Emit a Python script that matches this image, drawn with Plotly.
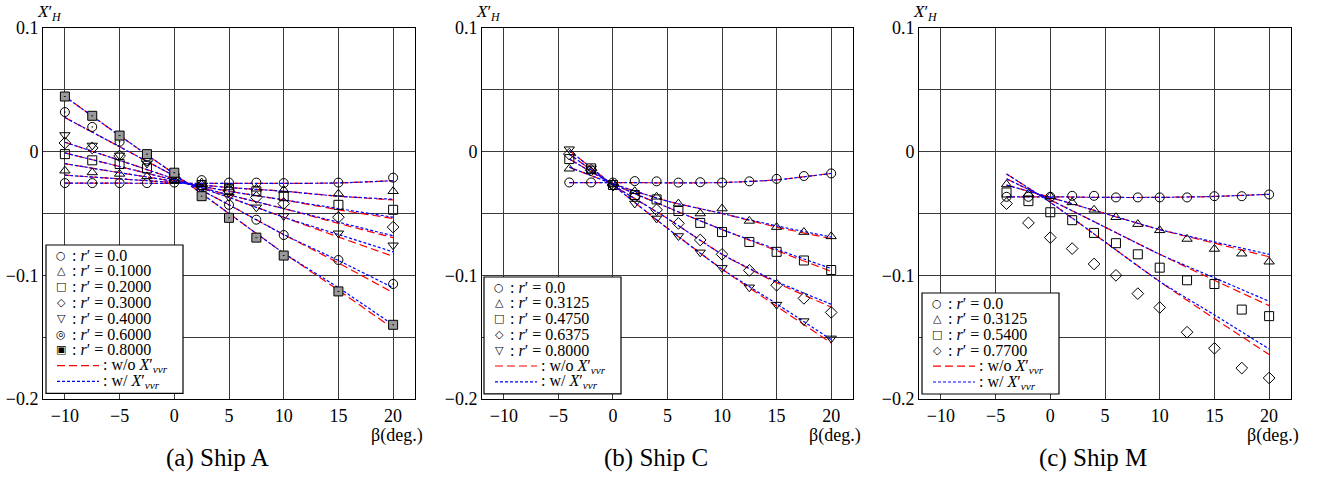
import plotly.graph_objects as go

# ---------------- data ----------------
# Ship A
A_beta = [-10, -7.5, -5, -2.5, 0, 2.5, 5, 7.5, 10, 15, 20]
A_labels = ["0.0", "0.1000", "0.2000", "0.3000", "0.4000", "0.6000", "0.8000"]
A_r00 = [-0.0254, -0.0254, -0.0254, -0.0254, -0.025, -0.023, -0.025, -0.025, -0.0254, -0.025, -0.021]
A_r01 = [-0.0154, -0.0168, -0.018, -0.020, -0.023, -0.025, -0.029, -0.030, -0.031, -0.034, -0.032]
A_r02 = [-0.002, -0.007, -0.010, -0.0135, -0.022, -0.027, -0.030, -0.032, -0.036, -0.043, -0.047]
A_r03 = [0.007, 0.003, -0.0035, -0.007, -0.021, -0.028, -0.032, -0.037, -0.042, -0.053, -0.061]
A_r04 = [0.0135, 0.005, -0.003, -0.0095, -0.020, -0.030, -0.0365, -0.045, -0.052, -0.066, -0.0757]
A_r06 = [0.032, 0.020, 0.008, -0.004, -0.018, -0.031, -0.043, -0.055, -0.0674, -0.0876, -0.107]
A_r08 = [0.0446, 0.029, 0.013, -0.002, -0.017, -0.036, -0.0535, -0.0695, -0.084, -0.113, -0.140]
A_line_beta = [-10, -5, 0, 5, 10, 15, 20]
A_wo = [
    [-0.0254, -0.0255, -0.0256, -0.0257, -0.0257, -0.0253, -0.0235],
    [-0.019, -0.022, -0.025, -0.029, -0.032, -0.036, -0.039],
    [-0.0097, -0.017, -0.024, -0.032, -0.039, -0.047, -0.054],
    [-0.001, -0.012, -0.023, -0.035, -0.046, -0.058, -0.0695],
    [0.0076, -0.007, -0.022, -0.037, -0.053, -0.069, -0.0846],
    [0.0276, 0.004, -0.0196, -0.043, -0.067, -0.090, -0.114],
    [0.0446, 0.013, -0.018, -0.050, -0.082, -0.112, -0.143],
]
A_w = [
    [-0.0254, -0.0255, -0.0256, -0.0257, -0.0257, -0.0253, -0.0235],
    [-0.019, -0.022, -0.025, -0.029, -0.032, -0.036, -0.0385],
    [-0.0097, -0.017, -0.024, -0.032, -0.039, -0.046, -0.053],
    [-0.001, -0.012, -0.023, -0.035, -0.046, -0.057, -0.068],
    [0.0076, -0.007, -0.022, -0.037, -0.053, -0.067, -0.081],
    [0.0276, 0.004, -0.0196, -0.043, -0.067, -0.088, -0.110],
    [0.0446, 0.013, -0.018, -0.050, -0.082, -0.110, -0.140],
]

# Ship C
B_beta = [-4, -2, 0, 2, 4, 6, 8, 10, 12.5, 15, 17.5, 20]
B_labels = ["0.0", "0.3125", "0.4750", "0.6375", "0.8000"]
B_r0 = [-0.0249, -0.0249, -0.025, -0.0238, -0.024, -0.025, -0.0247, -0.025, -0.024, -0.022, -0.0197, -0.0176]
B_r1 = [-0.0138, -0.016, -0.026, -0.032, -0.0365, -0.042, -0.050, -0.046, -0.056, -0.061, -0.065, -0.0685]
B_r2 = [-0.006, -0.0135, -0.027, -0.035, -0.0386, -0.048, -0.0576, -0.065, -0.073, -0.081, -0.088, -0.0957]
B_r3 = [-0.002, -0.015, -0.027, -0.0365, -0.047, -0.058, -0.0714, -0.083, -0.096, -0.108, -0.1186, -0.130]
B_r4 = [0.002, -0.0135, -0.028, -0.0419, -0.054, -0.0682, -0.0814, -0.094, -0.1097, -0.1237, -0.137, -0.151]
B_line_beta = [-4, 0, 5, 10, 15, 20]
B_wo = [
    [-0.0250, -0.0250, -0.0252, -0.0250, -0.0228, -0.0176],
    [-0.0125, -0.026, -0.040, -0.050, -0.061, -0.0703],
    [-0.006, -0.026, -0.045, -0.063, -0.080, -0.0968],
    [-0.002, -0.027, -0.054, -0.083, -0.106, -0.1256],
    [0.001, -0.027, -0.062, -0.095, -0.125, -0.1547],
]
B_w = [
    [-0.0250, -0.0250, -0.0252, -0.0250, -0.0228, -0.0176],
    [-0.0125, -0.026, -0.040, -0.050, -0.060, -0.069],
    [-0.006, -0.026, -0.045, -0.063, -0.079, -0.0945],
    [-0.002, -0.027, -0.054, -0.083, -0.105, -0.1234],
    [0.001, -0.027, -0.062, -0.095, -0.123, -0.152],
]

# Ship M
C_beta = [-4, -2, 0, 2, 4, 6, 8, 10, 12.5, 15, 17.5, 20]
C_labels = ["0.0", "0.3125", "0.5400", "0.7700"]
C_r0 = [-0.0365, -0.0365, -0.0365, -0.0357, -0.0357, -0.037, -0.037, -0.037, -0.037, -0.036, -0.036, -0.0346]
C_r1 = [-0.0265, -0.034, -0.036, -0.041, -0.047, -0.053, -0.0586, -0.0636, -0.0706, -0.0787, -0.0825, -0.089]
C_r2 = [-0.033, -0.040, -0.049, -0.0554, -0.0657, -0.074, -0.083, -0.0938, -0.104, -0.107, -0.1277, -0.133]
C_r3 = [-0.042, -0.0576, -0.0695, -0.0784, -0.0908, -0.100, -0.1148, -0.126, -0.146, -0.159, -0.175, -0.183]
C_line_beta = [-4, 0, 5, 10, 15, 20]
C_wo = [
    [-0.0365, -0.0365, -0.037, -0.037, -0.0362, -0.0345],
    [-0.027, -0.037, -0.050, -0.063, -0.074, -0.085],
    [-0.022, -0.039, -0.061, -0.083, -0.104, -0.1245],
    [-0.018, -0.041, -0.073, -0.105, -0.135, -0.164],
]
C_w = [
    [-0.0365, -0.0365, -0.037, -0.037, -0.0362, -0.0345],
    [-0.027, -0.037, -0.050, -0.063, -0.073, -0.083],
    [-0.022, -0.039, -0.061, -0.083, -0.102, -0.121],
    [-0.018, -0.041, -0.073, -0.105, -0.132, -0.1595],
]

x_ticks = [-10, -5, 0, 5, 10, 15, 20]
x_ticktext = ["\u221210", "\u22125", "0", "5", "10", "15", "20"]
y_ticks = [0.1, 0, -0.1, -0.2]
y_ticktext = ["0.1", "0", "\u22120.1", "\u22120.2"]
y_minor_step = 0.05
titles = ["(a) Ship A", "(b) Ship C", "(c) Ship M"]
line_names = [": w/o <i>X</i>\u2032<sub><i>vvr</i></sub>", ": w/ <i>X</i>\u2032<sub><i>vvr</i></sub>"]

# ---------------- styles ----------------
FONT = "Liberation Serif, Times New Roman, serif"
SYMFONT = "DejaVu Sans"
W, H = 1317, 477
RED_DASH = "8px,4px"
BLUE_DOT = "3px,2px"
GRID = "#3a3a3a"

sym_all = [
    dict(symbol="circle-open", color="black", glyph="\u25cb"),
    dict(symbol="triangle-up-open", color="black", glyph="\u25b3"),
    dict(symbol="square-open", color="black", glyph="\u25a1"),
    dict(symbol="diamond-open", color="black", glyph="\u25c7"),
    dict(symbol="triangle-down-open", color="black", glyph="\u25bd"),
    dict(symbol="circle-open-dot", color="black", glyph="\u25ce"),
    dict(symbol="square-dot", color="#9a9a9a", glyph="\u25a3"),
]

panels = [
    dict(beta=A_beta, data=[A_r00, A_r01, A_r02, A_r03, A_r04, A_r06, A_r08], labels=A_labels,
         lb=A_line_beta, wo=A_wo, w=A_w, sym=sym_all, px=(43, 415), leg=(46, 245)),
    dict(beta=B_beta, data=[B_r0, B_r1, B_r2, B_r3, B_r4], labels=B_labels,
         lb=B_line_beta, wo=B_wo, w=B_w, sym=sym_all[:5], px=(482, 853), leg=(484, 277)),
    dict(beta=C_beta, data=[C_r0, C_r1, C_r2, C_r3], labels=C_labels,
         lb=C_line_beta, wo=C_wo, w=C_w, sym=sym_all[:4], px=(919, 1291), leg=(922, 293)),
]

fig = go.Figure()
top_px, bot_px = 28, 399
ROW = 15.8


def px_x(v):
    return v / W


def px_y(v):
    return 1 - v / H


def label(x, y, text, size, family=FONT, xanchor="center"):
    fig.add_annotation(xref="paper", yref="paper", x=px_x(x), y=px_y(y), text=text,
                       showarrow=False, xanchor=xanchor, yanchor="middle",
                       font=dict(family=family, size=size, color="black"))


for i, p in enumerate(panels):
    n = "" if i == 0 else str(i + 1)
    xa, ya = "x" + n, "y" + n
    # model lines
    for k in range(len(p["wo"])):
        fig.add_trace(go.Scatter(
            x=p["lb"], y=p["wo"][k], xaxis=xa, yaxis=ya, mode="lines",
            line=dict(color="red", width=1.2, dash=RED_DASH, shape="spline", smoothing=0.6),
            showlegend=False, hoverinfo="skip"))
    for k in range(len(p["w"])):
        fig.add_trace(go.Scatter(
            x=p["lb"], y=p["w"][k], xaxis=xa, yaxis=ya, mode="lines",
            line=dict(color="blue", width=1.2, dash=BLUE_DOT, shape="spline", smoothing=0.6),
            showlegend=False, hoverinfo="skip"))
    # measured points
    for k, yy in enumerate(p["data"]):
        s = p["sym"][k]
        fig.add_trace(go.Scatter(
            x=p["beta"], y=yy, xaxis=xa, yaxis=ya, mode="markers",
            marker=dict(symbol=s["symbol"], size=9, color=s["color"],
                        line=dict(color="black", width=1)),
            showlegend=False, name="r' = " + p["labels"][k]))

    x0, x1 = p["px"]
    common = dict(showline=True, mirror=True, linecolor="black", linewidth=1,
                  showgrid=True, gridcolor=GRID, gridwidth=1, zeroline=False,
                  ticks="", automargin=False,
                  tickfont=dict(family=FONT, size=18, color="black"))
    fig.update_layout(**{
        "xaxis" + n: dict(domain=[x0 / W, x1 / W], range=[-12, 22], anchor=ya,
                          tickvals=x_ticks, ticktext=x_ticktext, **common),
        "yaxis" + n: dict(domain=[1 - bot_px / H, 1 - top_px / H], range=[-0.2, 0.1], anchor=xa,
                          tickvals=y_ticks, ticktext=y_ticktext,
                          minor=dict(dtick=y_minor_step, tick0=0, showgrid=True,
                                     gridcolor=GRID, gridwidth=1, ticks=""),
                          **common),
    })

    # ----- legend box (manual, to keep the tight row spacing of the original) -----
    lx, ly = p["leg"]
    nrows = len(p["labels"]) + 2
    box_bottom = ly + 10 + (nrows - 1) * ROW + 12
    fig.add_shape(type="rect", xref="paper", yref="paper",
                  x0=px_x(lx), x1=px_x(lx + 137), y0=px_y(ly), y1=px_y(box_bottom),
                  line=dict(color="black", width=1.2), fillcolor="white", layer="above")
    for k, lab in enumerate(p["labels"]):
        cy = ly + 10 + k * ROW
        label(lx + 15, cy, p["sym"][k]["glyph"], 11, family=SYMFONT)
        label(lx + 24, cy, ": <i>r</i>\u2032 = " + lab, 16, xanchor="left")
    for j, (col, dsh) in enumerate([("red", RED_DASH), ("blue", BLUE_DOT)]):
        cy = ly + 10 + (len(p["labels"]) + j) * ROW
        fig.add_shape(type="line", xref="paper", yref="paper",
                      x0=px_x(lx + 11), x1=px_x(lx + 53), y0=px_y(cy), y1=px_y(cy),
                      line=dict(color=col, width=1.2, dash=dsh), layer="above")
        label(lx + 55, cy, line_names[j], 16, xanchor="left")

    # axis labels and panel title
    label(x0 + 6, 13, "<i>X</i>\u2032<sub><i>H</i></sub>", 17)
    label(x1 - 18, 435, "\u03b2(deg.)", 18)
    label((x0 + x1) / 2 - 12, 458, titles[i], 25)

fig.update_layout(width=W, height=H, margin=dict(l=0, r=0, t=0, b=0, autoexpand=False),
                  paper_bgcolor="white", plot_bgcolor="white", showlegend=False,
                  font=dict(family=FONT, color="black"))

fig.write_html("out.html", config={"displayModeBar": False},
               post_script="document.body.style.margin='0px';document.body.style.overflow='hidden';")
